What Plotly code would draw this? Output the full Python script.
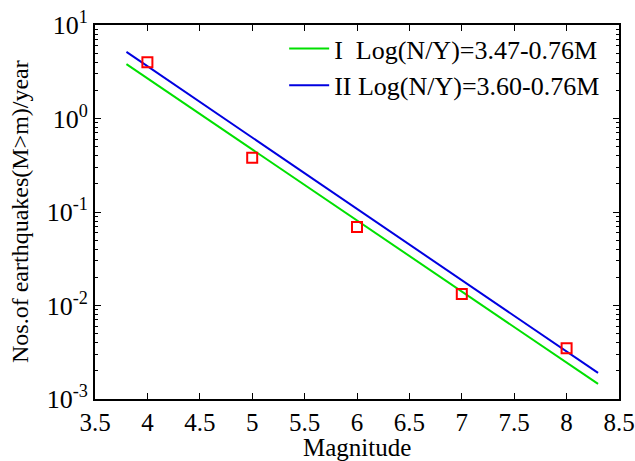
import plotly.graph_objects as go

magnitude = [4, 5, 6, 7, 8]
observed_rate = [4.0, 0.38, 0.069, 0.0133, 0.0035]

line_x = [3.8, 8.3]
line_I = [3.82, 0.00145]
line_II = [5.15, 0.0019]

label_I = "I  Log(N/Y)=3.47-0.76M"
label_II = "II Log(N/Y)=3.60-0.76M"
x_title = "Magnitude"
y_title = "Nos.of earthquakes(M>m)/year"

x_ticks = [3.5, 4, 4.5, 5, 5.5, 6, 6.5, 7, 7.5, 8, 8.5]
y_ticks = [1e-3, 1e-2, 1e-1, 1e0, 1e1]
y_ticktext = ["10<sup>-3</sup>", "10<sup>-2</sup>", "10<sup>-1</sup>", "10<sup>0</sup>", "10<sup>1</sup>"]

font = "Liberation Serif"

fig = go.Figure()
fig.add_trace(go.Scatter(x=line_x, y=line_I, mode="lines", name=label_I,
                         line=dict(color="#00e000", width=2)))
fig.add_trace(go.Scatter(x=line_x, y=line_II, mode="lines", name=label_II,
                         line=dict(color="#0000e0", width=2)))
fig.add_trace(go.Scatter(x=magnitude, y=observed_rate, mode="markers", showlegend=False,
                         marker=dict(symbol="square-open", color="red", size=10, line=dict(width=2))))

fig.update_layout(
    width=635, height=461,
    margin=dict(l=95, r=16, t=25, b=62),
    paper_bgcolor="white", plot_bgcolor="white",
    font=dict(family=font, size=26, color="black"),
    legend=dict(x=0.361, y=1.0, xanchor="left", yanchor="top",
                bgcolor="rgba(0,0,0,0)", font=dict(family=font, size=26), tracegroupgap=0,
                itemwidth=40),
    annotations=[
        dict(text=x_title, xref="paper", yref="paper", x=0.5, y=0, xanchor="center",
             yanchor="top", yshift=-33, showarrow=False, font=dict(family=font, size=25)),
        dict(text=y_title, xref="paper", yref="paper", x=0, y=0.5, xanchor="right",
             yanchor="middle", xshift=-60, textangle=-90, showarrow=False,
             font=dict(family=font, size=24)),
    ],
)
fig.update_xaxes(range=[3.5, 8.5], tickvals=x_ticks, ticktext=[str(v) for v in x_ticks],
                 ticks="inside", ticklen=6, tickcolor="black", showline=True, linecolor="black",
                 linewidth=2, mirror="allticks", showgrid=False, zeroline=False,
                 tickfont=dict(family=font, size=25), automargin=False,
                 ticklabeloverflow="allow")
fig.update_yaxes(type="log", range=[-3, 1], tickvals=y_ticks, ticktext=y_ticktext,
                 ticks="inside", ticklen=6, tickcolor="black", showline=True, linecolor="black",
                 linewidth=2, mirror="allticks", showgrid=False, zeroline=False,
                 minor=dict(ticks="inside", ticklen=3, tickcolor="black", showgrid=False, dtick="D1"),
                 tickfont=dict(family=font, size=26), automargin=False,
                 ticklabeloverflow="allow")

fig.write_html("out.html")
